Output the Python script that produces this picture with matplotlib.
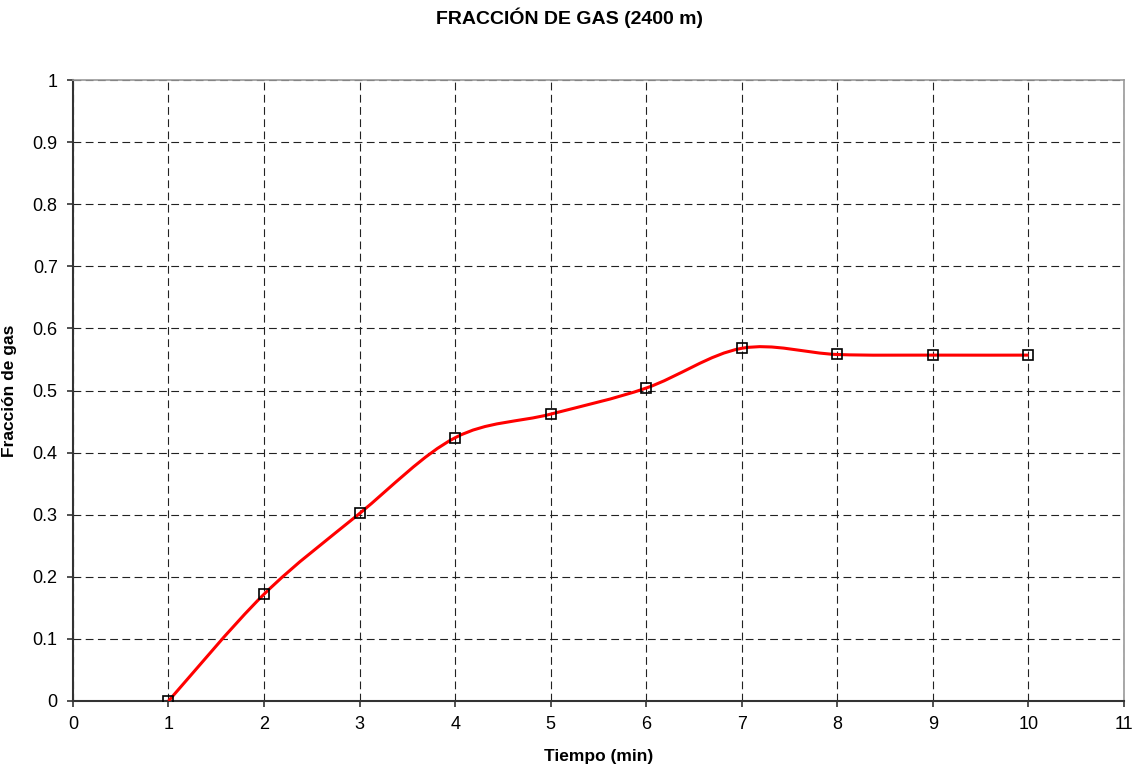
import matplotlib.pyplot as plt
import matplotlib
import numpy as np
from matplotlib.path import Path
from matplotlib.patches import PathPatch

matplotlib.rc('font', family='Liberation Sans')

tiempo = [1, 2, 3, 4, 5, 6, 7, 8, 9, 10]
fraccion = [0.0, 0.172, 0.302, 0.424, 0.462, 0.504, 0.568, 0.558, 0.557, 0.557]

def smooth_path(x, y):
    # Excel-style smoothed line: cubic Bezier segments through the points
    pts = np.column_stack([x, y]).astype(float)
    ext = np.vstack([pts[0], pts, pts[-1]])
    verts = [pts[0]]
    codes = [Path.MOVETO]
    for i in range(len(pts) - 1):
        p0, p1, p2, p3 = ext[i], ext[i + 1], ext[i + 2], ext[i + 3]
        c1 = p1 + (p2 - p0) / 6.0
        c2 = p2 - (p3 - p1) / 6.0
        verts += [c1, c2, p2]
        codes += [Path.CURVE4] * 3
    return Path(verts, codes)

fig = plt.figure(figsize=(11.38, 7.71), dpi=100)
ax = fig.add_axes([0.0641, 0.0908, 0.9236, 0.8054])

ax.add_patch(PathPatch(smooth_path(tiempo, fraccion), facecolor='none',
                       edgecolor='#ff0000', linewidth=2.2, zorder=3))
ax.plot(tiempo, fraccion, linestyle='none', marker='s', markersize=7,
        markerfacecolor='none', markeredgecolor='black', markeredgewidth=1.2, zorder=4)

ax.set_xlim(0, 11)
ax.set_ylim(0, 1)
ax.set_xticks(range(0, 12))
ax.set_yticks(np.arange(0, 1.01, 0.1))
ax.set_yticklabels(['0', '0.1', '0.2', '0.3', '0.4', '0.5', '0.6', '0.7', '0.8', '0.9', '1'])
ax.grid(True, color='#222222', linestyle=(0, (7, 4)), linewidth=0.8)
ax.set_axisbelow(True)

for s in ['top', 'right']:
    ax.spines[s].set_color('#999999')
    ax.spines[s].set_linewidth(1.2)
for s in ['left', 'bottom']:
    ax.spines[s].set_color('#333333')
    ax.spines[s].set_linewidth(1.5)
ax.tick_params(direction='out', length=4, width=1.2, labelsize=13, pad=7, color='#333333')

ax.set_xlabel('Tiempo (min)', fontsize=12.5, fontweight='bold')
ax.set_ylabel('Fracción de gas', fontsize=12.5, fontweight='bold')
ax.xaxis.set_label_coords(0.5, -0.077)
ax.yaxis.set_label_coords(-0.053, 0.5)
fig.text(0.5, 0.99, 'FRACCIÓN DE GAS (2400 m)', ha='center', va='top',
         fontsize=14, fontweight='bold')

fig.savefig('out.png', dpi=100)
